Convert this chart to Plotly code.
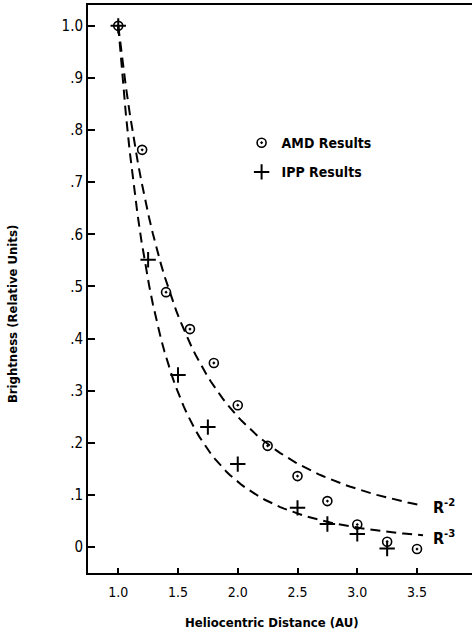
import numpy as np
import plotly.graph_objects as go

# AMD results (circles)
amd_r = [1.0, 1.2, 1.4, 1.6, 1.8, 2.0, 2.25, 2.5, 2.75, 3.0, 3.25, 3.5]
amd_b = [1.0, 0.762, 0.489, 0.418, 0.353, 0.272, 0.194, 0.136, 0.088, 0.043, 0.010, -0.004]

# IPP results (plus)
ipp_r = [1.0, 1.25, 1.5, 1.75, 2.0, 2.5, 2.75, 3.0, 3.25]
ipp_b = [1.0, 0.551, 0.330, 0.230, 0.159, 0.075, 0.044, 0.025, -0.003]

# model curves R^-2 and R^-3
curve_r = np.linspace(1.0, 3.55, 80)
powers = [2, 3]

y_ticks = [0, 0.1, 0.2, 0.3, 0.4, 0.5, 0.6, 0.7, 0.8, 0.9, 1.0]
y_ticklabels = ["0", ".1", ".2", ".3", ".4", ".5", ".6", ".7", ".8", ".9", "1.0"]
x_ticks = [1.0, 1.5, 2.0, 2.5, 3.0, 3.5]
x_ticklabels = ["1.0", "1.5", "2.0", "2.5", "3.0", "3.5"]

FONT = "DejaVu Sans Condensed, Liberation Sans Narrow, sans-serif"

fig = go.Figure()
for p in powers:
    fig.add_trace(go.Scatter(x=curve_r, y=curve_r ** (-p), mode="lines",
                             line=dict(color="black", width=2, dash="10px,6px"),
                             showlegend=False, hoverinfo="skip"))

fig.add_trace(go.Scatter(x=amd_r, y=amd_b, mode="markers", name="<b>AMD Results</b>",
                         legendgroup="a",
                         marker=dict(symbol="circle-open-dot", size=9, color="black",
                                     line=dict(width=1.6, color="black"))))
fig.add_trace(go.Scatter(x=ipp_r, y=ipp_b, mode="markers", name="<b>IPP Results</b>",
                         legendgroup="b",
                         marker=dict(symbol="cross-thin-open", size=11, color="black",
                                     line=dict(width=2, color="black"))))

fig.add_annotation(x=3.62, y=0.077, xref="x", yref="y", text="<b>R<sup>-2</sup></b>",
                   showarrow=False, xanchor="left", yanchor="middle",
                   font=dict(family=FONT, size=16, color="black"))
fig.add_annotation(x=3.62, y=0.019, xref="x", yref="y", text="<b>R<sup>-3</sup></b>",
                   showarrow=False, xanchor="left", yanchor="middle",
                   font=dict(family=FONT, size=16, color="black"))

# axis titles
fig.add_annotation(x=-0.195, y=0.456, xref="paper", yref="paper",
                   text="<b>Brightness (Relative Units)</b>", textangle=-90,
                   showarrow=False, xanchor="center", yanchor="middle",
                   font=dict(family=FONT, size=13, color="black"))
fig.add_annotation(x=0.479, y=-0.088, xref="paper", yref="paper",
                   text="<b>Heliocentric Distance (AU)</b>",
                   showarrow=False, xanchor="center", yanchor="middle",
                   font=dict(family=FONT, size=13, color="black"))

fig.update_xaxes(range=[0.747, 3.96], tickvals=x_ticks, ticktext=x_ticklabels,
                 ticks="inside", ticklen=5, tickwidth=2, tickcolor="black",
                 showline=True, linecolor="black", linewidth=2, mirror=True,
                 showgrid=False, zeroline=False, ticklabelstandoff=5,
                 tickfont=dict(family=FONT, size=14, color="black"))
fig.update_yaxes(range=[-0.05, 1.04], tickvals=y_ticks, ticktext=y_ticklabels,
                 ticks="inside", ticklen=7, tickwidth=2, tickcolor="black",
                 showline=True, linecolor="black", linewidth=2, mirror=False,
                 showgrid=False, zeroline=False,
                 tickfont=dict(family=FONT, size=15, color="black"))

fig.update_layout(width=472, height=633,
                  margin=dict(l=88, r=0, t=5, b=60),
                  paper_bgcolor="white", plot_bgcolor="white",
                  font=dict(family=FONT, color="black"),
                  legend=dict(x=0.40, y=0.785, xanchor="left", yanchor="top",
                              bgcolor="rgba(0,0,0,0)", itemwidth=30,
                              tracegroupgap=8,
                              font=dict(family=FONT, size=14, color="black")))
fig.write_html("out.html", config={"displayModeBar": False},
               post_script="document.body.style.margin='0px';document.body.style.overflow='hidden';")
